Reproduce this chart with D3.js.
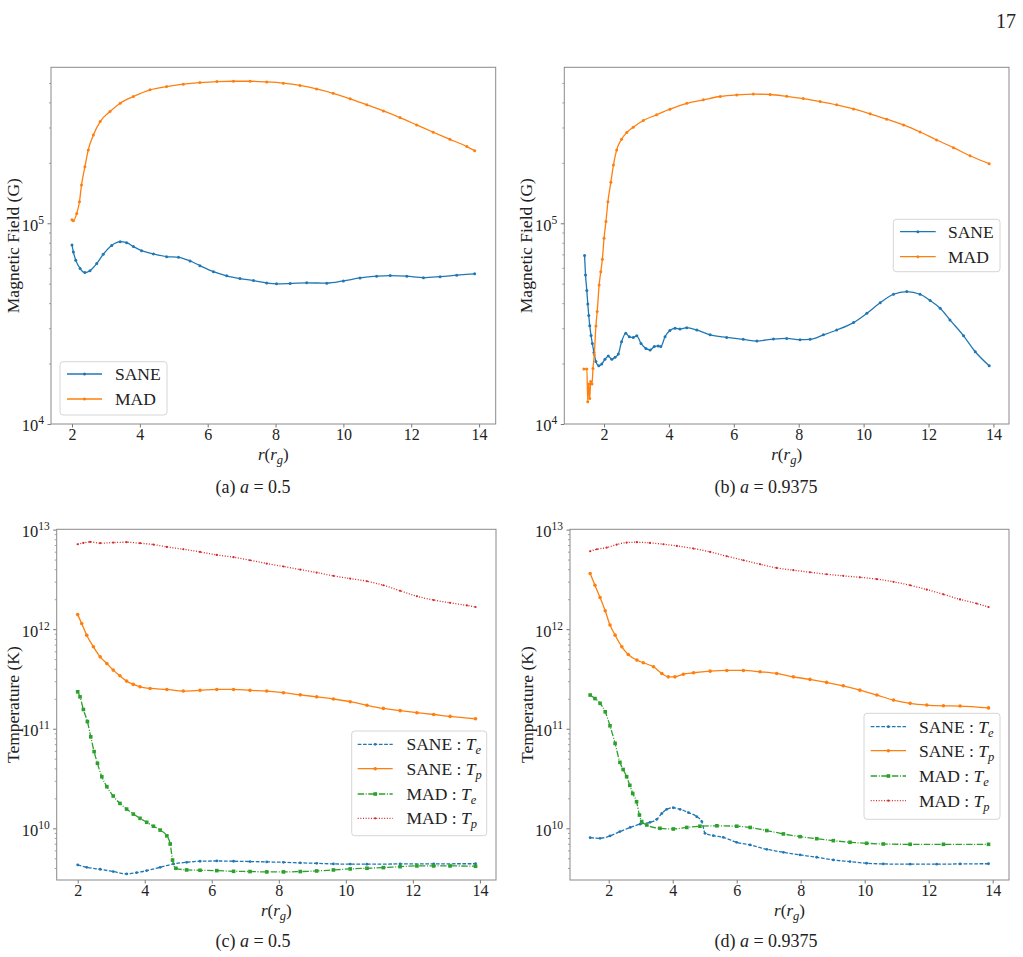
<!DOCTYPE html>
<html>
<head>
<meta charset="utf-8">
<script src="https://cdn.jsdelivr.net/npm/d3@7"></script>
<style>
  body { margin: 0; background: #fff; }
  svg { display: block; font-family: "Liberation Serif", "DejaVu Serif", serif; }
</style>
</head>
<body>
<div id="figure"></div>
<script>
// radial profiles, r in r_g
var xTicks = [2, 4, 6, 8, 10, 12, 14];
var fieldExponents = [4, 5];
var tempExponents = [10, 11, 12, 13];

// (a) a = 0.5, magnetic field (G)
var saneFieldA = [[2.0,7.8e4],[2.04,7.2e4],[2.11,6.55e4],[2.24,5.95e4],[2.38,5.68e4],[2.53,5.8e4],[2.73,6.3e4],[2.92,7.0e4],[3.17,7.75e4],[3.42,8.1e4],[3.61,8.0e4],[3.81,7.65e4],[4.05,7.3e4],[4.4,7.03e4],[4.79,6.82e4],[5.14,6.77e4],[5.48,6.49e4],[5.77,6.15e4],[6.17,5.74e4],[6.56,5.47e4],[6.95,5.3e4],[7.35,5.18e4],[7.74,5.04e4],[8.03,4.99e4],[8.43,5.01e4],[8.92,5.05e4],[9.51,5.03e4],[10.0,5.16e4],[10.49,5.34e4],[10.98,5.45e4],[11.38,5.49e4],[11.87,5.45e4],[12.36,5.36e4],[12.85,5.42e4],[13.34,5.51e4],[13.87,5.6e4]];
var madFieldA = [[2.0,1.04e5],[2.04,1.03e5],[2.14,1.12e5],[2.22,1.28e5],[2.28,1.55e5],[2.38,1.91e5],[2.48,2.32e5],[2.63,2.75e5],[2.83,3.21e5],[3.12,3.6e5],[3.42,3.96e5],[3.81,4.28e5],[4.3,4.62e5],[4.79,4.8e5],[5.28,4.93e5],[5.77,5.02e5],[6.27,5.08e5],[6.76,5.1e5],[7.25,5.1e5],[7.74,5.06e5],[8.23,4.99e5],[8.72,4.86e5],[9.21,4.67e5],[9.7,4.44e5],[10.2,4.17e5],[10.69,3.89e5],[11.18,3.63e5],[11.67,3.36e5],[12.16,3.09e5],[12.65,2.84e5],[13.14,2.62e5],[13.64,2.41e5],[13.87,2.3e5]];

// (b) a = 0.9375, magnetic field (G)
var saneFieldB = [[1.4,6.9e4],[1.43,5.53e4],[1.47,4.62e4],[1.5,3.96e4],[1.53,3.47e4],[1.56,3.09e4],[1.6,2.76e4],[1.64,2.52e4],[1.69,2.27e4],[1.75,2.05e4],[1.84,1.95e4],[1.93,1.99e4],[2.03,2.1e4],[2.13,2.18e4],[2.24,2.1e4],[2.34,2.15e4],[2.44,2.23e4],[2.54,2.57e4],[2.67,2.83e4],[2.78,2.72e4],[2.9,2.7e4],[3.01,2.75e4],[3.14,2.52e4],[3.29,2.38e4],[3.42,2.34e4],[3.55,2.43e4],[3.67,2.45e4],[3.75,2.43e4],[3.88,2.72e4],[4.03,2.92e4],[4.19,3.0e4],[4.34,2.97e4],[4.55,3.02e4],[4.86,2.94e4],[5.27,2.78e4],[5.78,2.7e4],[6.29,2.64e4],[6.71,2.59e4],[7.22,2.65e4],[7.63,2.67e4],[8.04,2.63e4],[8.35,2.64e4],[8.76,2.78e4],[9.17,2.94e4],[9.69,3.2e4],[10.1,3.56e4],[10.51,4.02e4],[10.92,4.43e4],[11.33,4.57e4],[11.74,4.43e4],[12.05,4.12e4],[12.36,3.77e4],[12.66,3.3e4],[13.08,2.75e4],[13.44,2.29e4],[13.87,1.95e4]];
var madFieldB = [[1.38,1.88e4],[1.47,1.88e4],[1.5,1.29e4],[1.53,1.58e4],[1.56,1.34e4],[1.59,1.63e4],[1.63,1.58e4],[1.66,1.89e4],[1.7,2.21e4],[1.75,3.08e4],[1.79,3.63e4],[1.85,4.93e4],[1.9,5.74e4],[1.95,6.62e4],[2.0,8.41e4],[2.06,1.02e5],[2.12,1.28e5],[2.21,1.6e5],[2.29,1.95e5],[2.39,2.32e5],[2.54,2.62e5],[2.7,2.83e5],[2.9,3.01e5],[3.21,3.25e5],[3.62,3.47e5],[4.03,3.7e5],[4.55,3.96e5],[5.06,4.12e5],[5.58,4.28e5],[6.09,4.36e5],[6.6,4.4e5],[7.12,4.38e5],[7.63,4.29e5],[8.14,4.18e5],[8.66,4.04e5],[9.17,3.89e5],[9.69,3.71e5],[10.2,3.51e5],[10.71,3.3e5],[11.23,3.09e5],[11.74,2.85e5],[12.25,2.6e5],[12.77,2.38e5],[13.28,2.17e5],[13.87,1.98e5]];

// (c) a = 0.5, temperature (K)
var saneTeC = [[2.0,4.29e9],[2.27,4.06e9],[2.67,3.88e9],[3.06,3.68e9],[3.46,3.48e9],[3.76,3.59e9],[4.06,3.76e9],[4.46,4.06e9],[4.86,4.39e9],[5.25,4.56e9],[5.65,4.67e9],[6.15,4.7e9],[6.65,4.67e9],[7.14,4.64e9],[7.64,4.6e9],[8.14,4.56e9],[8.64,4.5e9],[9.13,4.45e9],[9.63,4.39e9],[10.13,4.37e9],[10.63,4.36e9],[11.62,4.39e9],[12.62,4.4e9],[13.87,4.41e9]];
var saneTpC = [[2.0,1.4e12],[2.12,1.14e12],[2.27,8.7e11],[2.47,6.65e11],[2.67,5.27e11],[2.87,4.52e11],[3.06,3.88e11],[3.26,3.41e11],[3.46,3.01e11],[3.66,2.79e11],[3.86,2.64e11],[4.16,2.54e11],[4.66,2.48e11],[5.15,2.39e11],[5.65,2.43e11],[6.15,2.48e11],[6.65,2.48e11],[7.14,2.43e11],[7.64,2.39e11],[8.14,2.3e11],[8.64,2.19e11],[9.13,2.09e11],[9.63,1.99e11],[10.13,1.87e11],[10.63,1.72e11],[11.12,1.6e11],[11.62,1.52e11],[12.12,1.45e11],[12.62,1.39e11],[13.11,1.33e11],[13.87,1.26e11]];
var madTeC = [[2.0,2.35e11],[2.07,2.09e11],[2.17,1.56e11],[2.29,1.18e11],[2.39,8.3e10],[2.49,5.9e10],[2.59,4.5e10],[2.72,3.3e10],[2.87,2.62e10],[3.06,2.11e10],[3.26,1.78e10],[3.46,1.56e10],[3.66,1.39e10],[3.86,1.26e10],[4.06,1.15e10],[4.26,1.05e10],[4.46,9.6e9],[4.66,8.4e9],[4.76,6.96e9],[4.83,4.8e9],[4.93,3.97e9],[5.25,3.82e9],[5.65,3.79e9],[6.15,3.76e9],[6.65,3.7e9],[7.14,3.68e9],[7.64,3.65e9],[8.14,3.65e9],[8.64,3.68e9],[9.13,3.73e9],[9.63,3.82e9],[10.13,3.91e9],[10.63,3.97e9],[11.12,4.03e9],[11.62,4.12e9],[12.12,4.19e9],[12.62,4.19e9],[13.11,4.19e9],[13.87,4.16e9]];
var madTpC = [[2.0,7.13e12],[2.17,7.35e12],[2.37,7.52e12],[2.67,7.3e12],[3.06,7.41e12],[3.46,7.47e12],[3.86,7.3e12],[4.26,7.08e12],[4.66,6.7e12],[5.15,6.35e12],[5.65,5.97e12],[6.15,5.57e12],[6.65,5.28e12],[7.14,4.92e12],[7.64,4.56e12],[8.14,4.26e12],[8.64,3.97e12],[9.13,3.7e12],[9.63,3.43e12],[10.13,3.22e12],[10.63,3.03e12],[11.12,2.76e12],[11.62,2.43e12],[12.12,2.14e12],[12.62,1.96e12],[13.11,1.84e12],[13.61,1.73e12],[13.87,1.67e12]];

// (d) a = 0.9375, temperature (K)
var saneTeD = [[1.42,8.06e9],[1.73,7.94e9],[2.04,8.38e9],[2.35,9.27e9],[2.67,1.02e10],[2.98,1.1e10],[3.29,1.15e10],[3.5,1.23e10],[3.66,1.41e10],[3.81,1.55e10],[4.02,1.61e10],[4.23,1.55e10],[4.49,1.44e10],[4.75,1.31e10],[4.91,1.17e10],[5.01,8.91e9],[5.27,8.44e9],[5.58,8.12e9],[6.0,7.24e9],[6.42,6.81e9],[6.94,6.15e9],[7.46,5.74e9],[7.98,5.4e9],[8.5,5.12e9],[9.02,4.81e9],[9.54,4.63e9],[10.06,4.46e9],[10.58,4.39e9],[11.42,4.36e9],[12.25,4.36e9],[12.98,4.39e9],[13.87,4.41e9]];
var saneTpD = [[1.42,3.62e12],[1.57,2.76e12],[1.73,2.08e12],[1.89,1.53e12],[2.04,1.1e12],[2.2,8.71e11],[2.41,6.65e11],[2.61,5.57e11],[2.88,4.89e11],[3.08,4.6e11],[3.4,4.19e11],[3.66,3.59e11],[3.86,3.32e11],[4.07,3.32e11],[4.33,3.53e11],[4.65,3.65e11],[5.17,3.79e11],[5.69,3.85e11],[6.21,3.85e11],[6.73,3.73e11],[7.25,3.59e11],[7.77,3.32e11],[8.29,3.13e11],[8.81,2.92e11],[9.33,2.7e11],[9.85,2.44e11],[10.38,2.18e11],[10.9,1.94e11],[11.42,1.8e11],[11.94,1.73e11],[12.46,1.7e11],[12.98,1.69e11],[13.87,1.62e11]];
var madTeD = [[1.42,2.18e11],[1.57,2.01e11],[1.73,1.8e11],[1.89,1.48e11],[2.04,1.07e11],[2.2,7.13e10],[2.35,4.6e10],[2.45,3.9e10],[2.56,3.3e10],[2.66,2.7e10],[2.75,2.24e10],[2.87,1.85e10],[2.96,1.36e10],[3.03,1.17e10],[3.19,1.08e10],[3.6,1.0e10],[4.02,9.85e9],[4.44,1.02e10],[4.85,1.05e10],[5.38,1.06e10],[6.0,1.05e10],[6.42,1.02e10],[6.94,9.5e9],[7.46,8.78e9],[7.98,8.25e9],[8.5,7.87e9],[9.02,7.52e9],[9.54,7.24e9],[10.06,7.07e9],[10.58,6.96e9],[11.42,6.91e9],[12.46,6.91e9],[13.87,6.91e9]];
var madTpD = [[1.42,6.06e12],[1.63,6.35e12],[1.94,6.6e12],[2.25,7.08e12],[2.56,7.41e12],[2.88,7.47e12],[3.29,7.35e12],[3.71,7.13e12],[4.13,6.86e12],[4.65,6.45e12],[5.17,5.97e12],[5.69,5.4e12],[6.21,4.92e12],[6.73,4.49e12],[7.25,4.12e12],[7.77,3.91e12],[8.29,3.73e12],[8.81,3.56e12],[9.33,3.43e12],[9.85,3.32e12],[10.38,3.18e12],[10.9,2.99e12],[11.42,2.76e12],[11.94,2.5e12],[12.46,2.24e12],[12.98,1.99e12],[13.5,1.81e12],[13.87,1.67e12]];

(function(d3) {
    'use strict';

    var width = 1023, height = 957;

    var colors = {
        blue: '#1f77b4',
        orange: '#ff7f0e',
        green: '#2ca02c',
        red: '#d62728'
    };

    // line styles for the kinds of curve
    var styles = {
        field: { dash: null, marker: 'dot', size: 1.5 },
        te: { dash: '3.7,1.6', marker: 'dot', size: 1.4 },
        tp: { dash: null, marker: 'dot', size: 1.8 },
        madTe: { dash: '6.4,1.6,1,1.6', marker: 'square', size: 3.6 },
        madTp: { dash: '1,1.65', marker: 'dot', size: 1.1 }
    };

    var panels = [
        {
            caption: ['(a) ', 'a', ' = 0.5'], capX: 253, capY: 493,
            left: 51, top: 67.3, right: 495.7, bottom: 424,
            xDomain: [1.381, 14.49], yDomain: [1e4, Math.pow(10, 5.777)],
            exps: fieldExponents, ylabel: 'Magnetic Field (G)', ylabelX: 19,
            series: [
                { label: ['SANE'], data: saneFieldA, color: colors.blue, style: styles.field },
                { label: ['MAD'], data: madFieldA, color: colors.orange, style: styles.field }
            ],
            legend: { x: 60, y: 361.7, w: 107, h: 53.3, rowY: [374, 399], lineX: [67, 102], textX: 115 }
        },
        {
            caption: ['(b) ', 'a', ' = 0.9375'], capX: 766, capY: 493,
            left: 564.3, top: 67.3, right: 1009, bottom: 424,
            xDomain: [0.776, 14.48], yDomain: [1e4, Math.pow(10, 5.777)],
            exps: fieldExponents, ylabel: 'Magnetic Field (G)', ylabelX: 532,
            series: [
                { label: ['SANE'], data: saneFieldB, color: colors.blue, style: styles.field },
                { label: ['MAD'], data: madFieldB, color: colors.orange, style: styles.field }
            ],
            legend: { x: 893.3, y: 219.3, w: 106.7, h: 52.4, rowY: [231.7, 256.7], lineX: [900, 935.7], textX: 948 }
        },
        {
            caption: ['(c) ', 'a', ' = 0.5'], capX: 253, capY: 947,
            left: 56.7, top: 529.3, right: 496, bottom: 880,
            xDomain: [1.374, 14.48], yDomain: [Math.pow(10, 9.481), Math.pow(10, 13.003)],
            exps: tempExponents, ylabel: 'Temperature (K)', ylabelX: 19,
            series: [
                { label: ['SANE : ', 'T', 'e'], data: saneTeC, color: colors.blue, style: styles.te },
                { label: ['SANE : ', 'T', 'p'], data: saneTpC, color: colors.orange, style: styles.tp },
                { label: ['MAD : ', 'T', 'e'], data: madTeC, color: colors.green, style: styles.madTe },
                { label: ['MAD : ', 'T', 'p'], data: madTpC, color: colors.red, style: styles.madTp }
            ],
            legend: { x: 351.7, y: 731, w: 135, h: 104.7, rowY: [744.3, 768.7, 794, 818.3], lineX: [357.7, 392.7], textX: 406.5 }
        },
        {
            caption: ['(d) ', 'a', ' = 0.9375'], capX: 766, capY: 947,
            left: 570, top: 529.3, right: 1009, bottom: 880,
            xDomain: [0.79, 14.51], yDomain: [Math.pow(10, 9.481), Math.pow(10, 13.003)],
            exps: tempExponents, ylabel: 'Temperature (K)', ylabelX: 533,
            series: [
                { label: ['SANE : ', 'T', 'e'], data: saneTeD, color: colors.blue, style: styles.te },
                { label: ['SANE : ', 'T', 'p'], data: saneTpD, color: colors.orange, style: styles.tp },
                { label: ['MAD : ', 'T', 'e'], data: madTeD, color: colors.green, style: styles.madTe },
                { label: ['MAD : ', 'T', 'p'], data: madTpD, color: colors.red, style: styles.madTp }
            ],
            legend: { x: 864, y: 713.3, w: 136, h: 106, rowY: [726.7, 750.7, 776, 800.7], lineX: [870.7, 906], textX: 919 }
        }
    ];

    var svg = d3.select('#figure').append('svg')
        .attr('width', width)
        .attr('height', height);

    svg.append('rect')
        .attr('width', width)
        .attr('height', height)
        .attr('fill', '#fff');

    // page number
    svg.append('text')
        .attr('x', 1016)
        .attr('y', 28)
        .attr('text-anchor', 'end')
        .attr('font-size', 20)
        .attr('fill', '#222')
        .text('17');

    panels.forEach(drawPanel);

    function drawMarker(sel, style, color, cx, cy) {
        if (style.marker === 'square') {
            sel.append('rect')
                .attr('x', cx - style.size / 2)
                .attr('y', cy - style.size / 2)
                .attr('width', style.size)
                .attr('height', style.size)
                .attr('fill', color);
        } else {
            sel.append('circle')
                .attr('cx', cx)
                .attr('cy', cy)
                .attr('r', style.size)
                .attr('fill', color);
        }
    }

    function minorTicks(domain) {
        var out = [];
        var lo = Math.floor(Math.log10(domain[0]));
        var hi = Math.ceil(Math.log10(domain[1]));
        for (var e = lo; e <= hi; e++) {
            for (var k = 2; k <= 9; k++) {
                var v = k * Math.pow(10, e);
                if (v >= domain[0] && v <= domain[1]) out.push(v);
            }
        }
        return out;
    }

    function drawPanel(p) {
        var g = svg.append('g');

        var x = d3.scaleLinear().domain(p.xDomain).range([p.left, p.right]);
        var y = d3.scaleLog().domain(p.yDomain).range([p.bottom, p.top]);

        // x axis
        var xAxis = g.append('g')
            .attr('transform', 'translate(0,' + p.bottom + ')')
            .call(d3.axisBottom(x).tickValues(xTicks).tickSize(3.5).tickPadding(1).tickSizeOuter(0));
        xAxis.select('.domain').remove();
        xAxis.selectAll('line').attr('stroke', '#555').attr('stroke-width', 0.8);
        xAxis.selectAll('text')
            .attr('font-family', '"Liberation Serif", serif')
            .attr('font-size', 16)
            .attr('fill', '#222');

        // y axis, minor then major
        var yMinor = g.append('g')
            .attr('transform', 'translate(' + p.left + ',0)')
            .call(d3.axisLeft(y).tickValues(minorTicks(p.yDomain)).tickSize(2).tickFormat(''));
        yMinor.select('.domain').remove();
        yMinor.selectAll('line').attr('stroke', '#666').attr('stroke-width', 0.6);

        var majors = p.exps.map(function(e) { return Math.pow(10, e); });
        var yAxis = g.append('g')
            .attr('transform', 'translate(' + p.left + ',0)')
            .call(d3.axisLeft(y).tickValues(majors).tickSize(3.5).tickPadding(3.5).tickFormat(''));
        yAxis.select('.domain').remove();
        yAxis.selectAll('line').attr('stroke', '#555').attr('stroke-width', 0.8);
        yAxis.selectAll('text')
            .attr('font-family', '"Liberation Serif", serif')
            .attr('font-size', 16.5)
            .attr('fill', '#222')
            .attr('dy', '0.42em')
            .each(function(d) {
                var t = d3.select(this);
                t.append('tspan').text('10');
                t.append('tspan')
                    .attr('font-size', 11.5)
                    .attr('dy', -7)
                    .text(Math.round(Math.log10(d)));
            });

        // frame
        g.append('rect')
            .attr('x', p.left)
            .attr('y', p.top)
            .attr('width', p.right - p.left)
            .attr('height', p.bottom - p.top)
            .attr('fill', 'none')
            .attr('stroke', '#8a8a8a')
            .attr('stroke-width', 1);

        // axis labels
        var xl = g.append('text')
            .attr('x', (p.left + p.right) / 2)
            .attr('y', p.bottom + 35.5)
            .attr('text-anchor', 'middle')
            .attr('font-size', 17)
            .attr('fill', '#222');
        xl.append('tspan').attr('font-style', 'italic').text('r');
        xl.append('tspan').text('(');
        xl.append('tspan').attr('font-style', 'italic').text('r');
        xl.append('tspan').attr('font-style', 'italic').attr('font-size', 12.5).attr('dy', 4).text('g');
        xl.append('tspan').attr('dy', -4).text(')');

        g.append('text')
            .attr('transform', 'translate(' + p.ylabelX + ',' + (p.top + p.bottom) / 2 + ') rotate(-90)')
            .attr('text-anchor', 'middle')
            .attr('font-size', 17.5)
            .attr('fill', '#222')
            .text(p.ylabel);

        // curves
        var line = d3.line()
            .x(function(d) { return x(d[0]); })
            .y(function(d) { return y(d[1]); })
            .curve(d3.curveMonotoneX);

        p.series.forEach(function(s) {
            g.append('path')
                .datum(s.data)
                .attr('d', line)
                .attr('fill', 'none')
                .attr('stroke', s.color)
                .attr('stroke-width', 1.3)
                .attr('stroke-dasharray', s.style.dash);

            var m = g.append('g');
            s.data.forEach(function(d) {
                drawMarker(m, s.style, s.color, x(d[0]), y(d[1]));
            });
        });

        // legend
        var L = p.legend;
        g.append('rect')
            .attr('x', L.x)
            .attr('y', L.y)
            .attr('width', L.w)
            .attr('height', L.h)
            .attr('rx', 3)
            .attr('fill', '#fff')
            .attr('fill-opacity', 0.8)
            .attr('stroke', '#d6d6d6')
            .attr('stroke-width', 1);

        p.series.forEach(function(s, i) {
            var ry = L.rowY[i];
            g.append('line')
                .attr('x1', L.lineX[0])
                .attr('x2', L.lineX[1])
                .attr('y1', ry)
                .attr('y2', ry)
                .attr('stroke', s.color)
                .attr('stroke-width', 1.3)
                .attr('stroke-dasharray', s.style.dash);
            drawMarker(g, s.style, s.color, (L.lineX[0] + L.lineX[1]) / 2, ry);

            var t = g.append('text')
                .attr('x', L.textX)
                .attr('y', ry + 6)
                .attr('font-size', 17.5)
                .attr('fill', '#222');
            t.append('tspan').text(s.label[0]);
            if (s.label.length > 1) {
                t.append('tspan').attr('font-style', 'italic').text(s.label[1]);
                t.append('tspan').attr('font-style', 'italic').attr('font-size', 12.5).attr('dy', 4).text(s.label[2]);
            }
        });

        // caption
        var c = svg.append('text')
            .attr('x', p.capX)
            .attr('y', p.capY)
            .attr('text-anchor', 'middle')
            .attr('font-size', 18)
            .attr('fill', '#222');
        c.append('tspan').text(p.caption[0]);
        c.append('tspan').attr('font-style', 'italic').text(p.caption[1]);
        c.append('tspan').text(p.caption[2]);
    }

})(window.d3);
</script>
</body>
</html>
